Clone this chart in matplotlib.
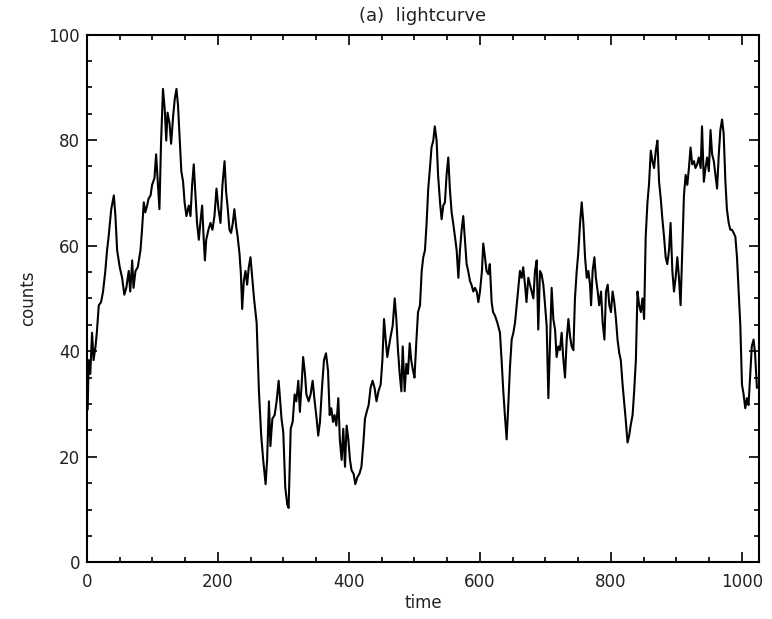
import matplotlib
matplotlib.use("Agg")
import matplotlib.pyplot as plt
from matplotlib.ticker import MultipleLocator

# Light curve samples: time and counts
time = [
    1.0, 2.6, 5.0, 7.7, 10.0, 13.0, 15.0, 18.0, 21.5, 24.5, 28.0, 30.6, 33.0, 37.0,
    41.0, 43.4, 46.0, 50.0, 53.6, 57.0, 60.0, 63.7, 66.0, 69.0, 71.0, 74.0, 77.5,
    81.6, 84.0, 86.7, 89.0, 91.8, 94.0, 97.0, 99.4, 103.0, 105.5, 108.0, 110.6,
    113.0, 116.0, 118.7, 121.0, 123.0, 126.0, 128.4, 131.5, 134.0, 136.6, 139.0,
    141.6, 144.0, 146.7, 149.0, 151.8, 155.4, 158.0, 160.5, 163.0, 165.6, 168.0,
    170.7, 173.0, 175.8, 178.0, 180.0, 182.0, 185.4, 188.5, 191.5, 194.6, 197.7,
    200.7, 203.8, 206.8, 210.0, 212.4, 215.0, 217.5, 220.0, 222.6, 225.0, 227.7,
    230.0, 232.8, 235.0, 236.9, 239.4, 242.0, 244.5, 247.0, 249.6,
    255.0, 259.0, 262.5, 266.0, 269.0, 272.7, 275.0, 277.8, 280.0, 283.0, 286.5,
    289.5, 292.6, 294.6, 297.0, 299.7, 302.7, 305.8, 307.8, 311.0, 314.0, 317.0,
    319.6, 322.6, 325.0, 327.7, 330.0, 332.8, 335.0, 338.4, 341.4, 344.5, 347.6,
    350.6, 353.0, 355.7, 358.8, 361.8, 364.9, 368.0, 370.5, 373.0, 375.6, 378.0,
    380.7, 383.7, 386.0, 388.8, 391.3, 393.9, 396.4, 399.0, 401.5, 404.0, 407.0,
    409.7, 412.7, 416.0, 419.0, 422.0, 424.4, 427.0, 430.0, 433.0, 436.0, 439.0,
    442.0, 445.0, 448.4, 451.0, 453.5, 456.0, 458.5, 461.0, 463.6, 466.7, 469.8,
    472.3, 474.8, 477.4, 480.0, 482.0, 485.0, 487.6, 490.0, 492.7, 495.0, 497.8,
    500.0, 503.0, 505.4,
    508.4, 511.0, 513.4, 516.0, 518.5, 521.0, 523.6, 526.0, 528.7, 531.0, 533.8,
    536.0, 539.0, 541.4, 544.0, 546.5, 549.0, 551.6, 554.0, 556.7, 559.0, 561.8,
    564.4, 567.0, 569.4, 572.0, 574.5, 577.0, 579.6, 582.0, 584.7, 587.0, 589.8,
    592.4, 595.0, 597.5, 600.0, 603.0, 605.0, 607.6, 610.0, 612.7, 615.0, 617.8,
    620.0, 623.0, 626.5, 630.5, 633.0, 635.6, 638.0, 640.7, 643.0, 645.8, 648.4,
    651.0, 653.5, 656.0, 658.6, 661.0, 663.6, 666.0, 668.7, 671.0, 673.8, 676.4,
    679.0, 681.5, 684.0, 686.6, 689.0, 691.6, 694.0, 696.7, 699.0, 701.8, 704.4,
    707.0, 709.4, 712.0, 714.6, 717.0, 719.6, 722.0, 724.7, 727.0, 729.8, 732.4,
    735.0, 737.5, 740.0, 742.6, 745.0, 747.7, 750.0, 752.8, 755.3, 757.8, 760.4,
    763.0, 765.5, 768.0,
    769.6, 772.0, 774.7, 777.0, 779.7, 782.0, 784.8, 787.3, 790.0, 792.4, 795.0,
    797.5, 800.0, 802.5, 805.0, 807.6, 810.0, 812.7, 815.0, 817.7, 820.0, 822.8,
    825.3, 827.8, 830.0, 833.0, 835.4, 838.0, 840.5, 843.0, 845.6, 848.0, 850.6,
    853.0, 855.7, 858.0, 860.8, 863.3, 865.8, 868.4, 870.9, 873.4, 876.0, 878.5,
    881.0, 883.5, 886.0, 888.6, 891.0, 893.7, 896.2, 898.7, 901.3, 903.8, 906.3,
    908.9, 911.4, 914.0, 916.5, 919.0, 921.5, 924.0, 926.6, 929.0, 931.6, 934.0,
    937.0, 939.0, 941.8, 944.3, 946.8, 949.4, 952.0, 954.4, 957.0, 959.5, 962.0,
    964.6, 967.0, 969.6, 972.0, 974.7, 977.0, 979.7, 982.3, 984.8, 987.3, 989.9,
    992.4, 995.0, 997.5, 1000.0, 1002.5, 1005.0, 1007.6, 1010.0, 1012.7, 1015.0,
    1017.7, 1020.0, 1022.8,
]

counts = [
    29.0, 38.3, 35.7, 43.5, 38.3, 40.9, 43.5, 48.7, 49.3, 51.3, 55.2, 59.1, 61.7, 66.9,
    69.5, 65.6, 59.1, 55.9, 53.9, 50.7, 52.0, 55.2, 51.3, 57.2, 52.0, 55.2, 55.9,
    59.1, 63.0, 68.2, 66.3, 67.6, 68.9, 69.5, 71.5, 72.8, 77.3, 72.1, 66.9,
    79.3, 89.7, 85.8, 79.9, 85.2, 83.2, 79.3, 84.5, 87.8, 89.7, 86.5,
    79.9, 74.1, 72.1, 68.2, 65.6, 67.6, 65.6, 71.5, 75.4, 69.5, 64.3,
    61.1, 64.3, 67.6, 61.7, 57.2, 61.1, 63.0, 64.3, 63.0, 65.6, 70.8,
    66.9, 64.3, 71.5, 76.0, 70.2, 66.9, 63.0, 62.4, 64.3, 66.9, 63.7,
    61.7, 58.5, 54.6, 48.0, 53.3, 55.2, 52.6, 55.9, 57.8,
    50.0, 45.4, 32.4, 24.0, 19.4, 14.8, 19.4, 30.5, 22.0, 27.2, 27.9,
    30.5, 34.4, 31.1, 27.2, 24.6, 14.2, 10.9, 10.3, 25.3, 26.6, 31.8,
    30.5, 34.4, 28.5, 33.7, 38.9, 35.7, 31.8, 30.5, 31.8, 34.4, 30.5,
    27.2, 24.0, 26.6, 33.1, 38.3, 39.6, 36.3, 27.9, 29.2, 26.6, 27.9,
    25.9, 31.1, 23.3, 19.4, 25.3, 18.1, 25.9, 23.3, 19.4, 17.4, 16.8,
    14.8, 16.1, 16.8, 18.1, 22.7, 27.2, 28.5, 29.8, 33.1, 34.4, 33.1,
    30.5, 32.4, 33.7, 38.3, 46.1, 42.2, 38.9, 40.9, 42.8, 44.8, 50.0,
    46.1, 40.2, 35.7, 32.4, 40.9, 32.4, 37.6, 35.7, 41.5, 38.3, 36.3,
    35.0, 42.2, 47.4,
    48.7, 55.2, 57.8, 59.1, 64.3, 70.8, 74.7, 78.6, 79.9, 82.6, 79.9,
    73.4, 68.2, 65.0, 67.6, 68.2, 73.4, 76.7, 70.8, 66.3, 64.3, 61.7,
    59.1, 53.9, 59.1, 63.0, 65.6, 61.1, 56.5, 55.2, 53.3, 52.6, 51.3,
    52.0, 51.3, 49.3, 51.3, 55.2, 60.4, 57.8, 55.2, 54.6, 56.5, 49.3,
    47.4, 46.7, 45.4, 43.5, 38.3, 32.4, 27.9, 23.3, 29.2, 37.0, 42.2,
    43.5, 45.4, 48.7, 52.0, 55.2, 53.9, 55.9, 52.6, 49.3, 53.9, 52.6,
    51.3, 50.0, 55.2, 57.2, 44.1, 55.2, 54.6, 52.6, 49.3, 44.8, 31.1,
    42.2, 52.0, 46.1, 44.1, 38.9, 40.9, 40.2, 43.5, 38.9, 35.0, 42.2,
    46.1, 42.8, 40.9, 40.2, 50.0, 55.2, 58.5, 64.3, 68.2, 64.3, 57.8,
    53.9, 55.2, 52.6,
    48.7, 55.2, 57.8, 53.9, 51.3, 48.7, 51.3, 45.4, 42.2, 51.3, 52.6,
    48.7, 47.4, 51.3, 49.3, 46.1, 42.2, 39.6, 38.3, 33.7, 30.5, 26.6,
    22.7, 24.0, 25.9, 27.9, 32.4, 38.3, 51.3, 48.7, 47.4, 50.0, 46.1,
    61.7, 68.2, 71.5, 78.0, 76.0, 74.7, 78.0, 79.9, 72.1, 68.9, 65.0,
    61.7, 57.8, 56.5, 59.1, 64.3, 55.2, 51.3, 53.9, 57.8, 53.9, 48.7,
    59.1, 69.5, 73.4, 71.5, 74.7, 78.6, 75.4, 76.0, 74.7, 75.4, 76.7,
    74.7, 82.6, 72.1, 74.7, 76.7, 74.1, 81.9, 77.3, 76.0, 73.4, 70.8,
    77.3, 81.9, 83.9, 81.3, 72.1, 66.9, 64.3, 63.0, 63.0, 62.4, 61.7,
    57.8, 51.3, 44.8, 33.7, 31.8, 29.2, 31.1, 29.8, 35.7, 40.9,
    42.2, 39.6, 33.1,
]

fig = plt.figure(figsize=(7.72, 6.19), dpi=100)
ax = fig.add_axes([87 / 772, 1 - 562.3 / 619, (759 - 87) / 772, (562.3 - 34.5) / 619])

ax.plot(time, counts, color="black", linewidth=1.5)

ax.set_xlim(0, 1026)
ax.set_ylim(0, 100)

ax.xaxis.set_major_locator(MultipleLocator(200))
ax.xaxis.set_minor_locator(MultipleLocator(50))
ax.yaxis.set_major_locator(MultipleLocator(20))
ax.yaxis.set_minor_locator(MultipleLocator(5))

ax.tick_params(which="both", direction="in", top=True, right=True,
               width=1.2, colors="black", labelsize=12, labelcolor="#222222")
ax.tick_params(which="major", length=7.5)
ax.tick_params(which="minor", length=3.8)
ax.tick_params(axis="x", which="major", pad=8)
ax.tick_params(axis="y", which="major", pad=5)

for spine in ax.spines.values():
    spine.set_linewidth(1.5)

ax.set_xlabel("time", fontsize=12, labelpad=2, color="#222222")
ax.set_ylabel("counts", fontsize=12, labelpad=8, color="#222222")
ax.set_title("(a)  lightcurve", fontsize=13, pad=10, color="#222222")

fig.savefig("out.png", dpi=100)
